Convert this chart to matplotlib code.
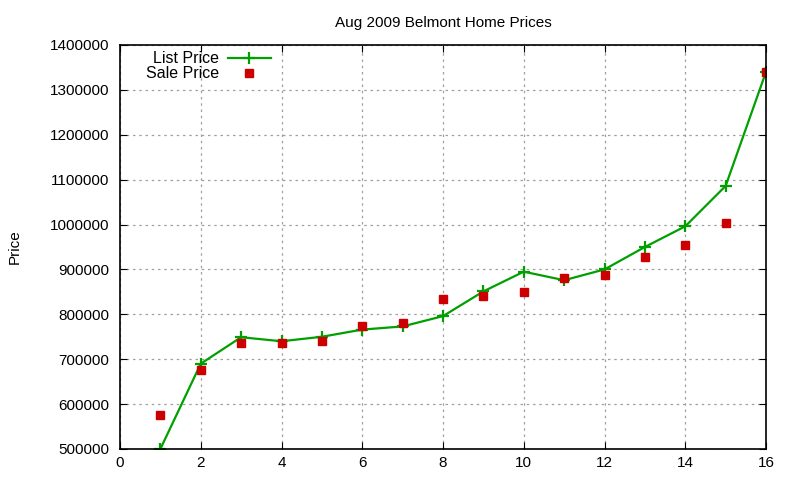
import matplotlib.pyplot as plt
import numpy as np

plt.rcParams['font.family'] = ['Liberation Sans', 'DejaVu Sans']

houses = [1, 2, 3, 4, 5, 6, 7, 8, 9, 10, 11, 12, 13, 14, 15, 16]
list_price = [500000, 690000, 749000, 740000, 750000, 766000, 773000, 796000,
              851000, 895000, 876000, 900000, 950000, 996000, 1086000, 1340000]
sale_price = [576000, 676000, 735000, 737000, 741000, 775000, 781000, 835000,
              841000, 850000, 881000, 888000, 928000, 954000, 1004000, 1340000]

green = '#00a000'
red = '#cc0000'

fig = plt.figure(figsize=(8, 4.8), dpi=100)
ax = fig.add_axes([0.15, 0.0646, 0.8075, 0.8417])

ax.plot(houses, list_price, color=green, lw=1.6, marker='+', ms=8, mew=1.6,
        label='List Price')
ax.plot(houses, sale_price, ls='none', color=red, marker='s', ms=6,
        label='Sale Price')

ax.set_xlim(0, 16)
ax.set_ylim(500000, 1400000)
ax.set_xticks(np.arange(0, 17, 2))
ax.set_yticks(np.arange(500000, 1400001, 100000))
ax.ticklabel_format(style='plain', axis='y', useOffset=False)
ax.tick_params(direction='in', top=True, right=True, labelsize=11, length=5)
ax.tick_params(axis='y', pad=8)
ax.tick_params(axis='x', pad=5)
ax.grid(True, color='#a0a0a0', ls=(0, (2, 3)), lw=0.9)
for s in ax.spines.values():
    s.set_linewidth(1.2)

ax.set_title('Aug 2009 Belmont Home Prices', fontsize=11, pad=13)
ax.set_ylabel('Price', fontsize=11, labelpad=20)

leg = ax.legend(loc='upper left', bbox_to_anchor=(0.03, 1.0), frameon=False,
                markerfirst=False, fontsize=11.5, handlelength=2.7,
                handletextpad=0.55, labelspacing=0.0, borderaxespad=0)
for t in leg.get_texts():
    t.set_ha('right')
leg._legend_box.align = 'right'

fig.savefig('out.png', dpi=100)
